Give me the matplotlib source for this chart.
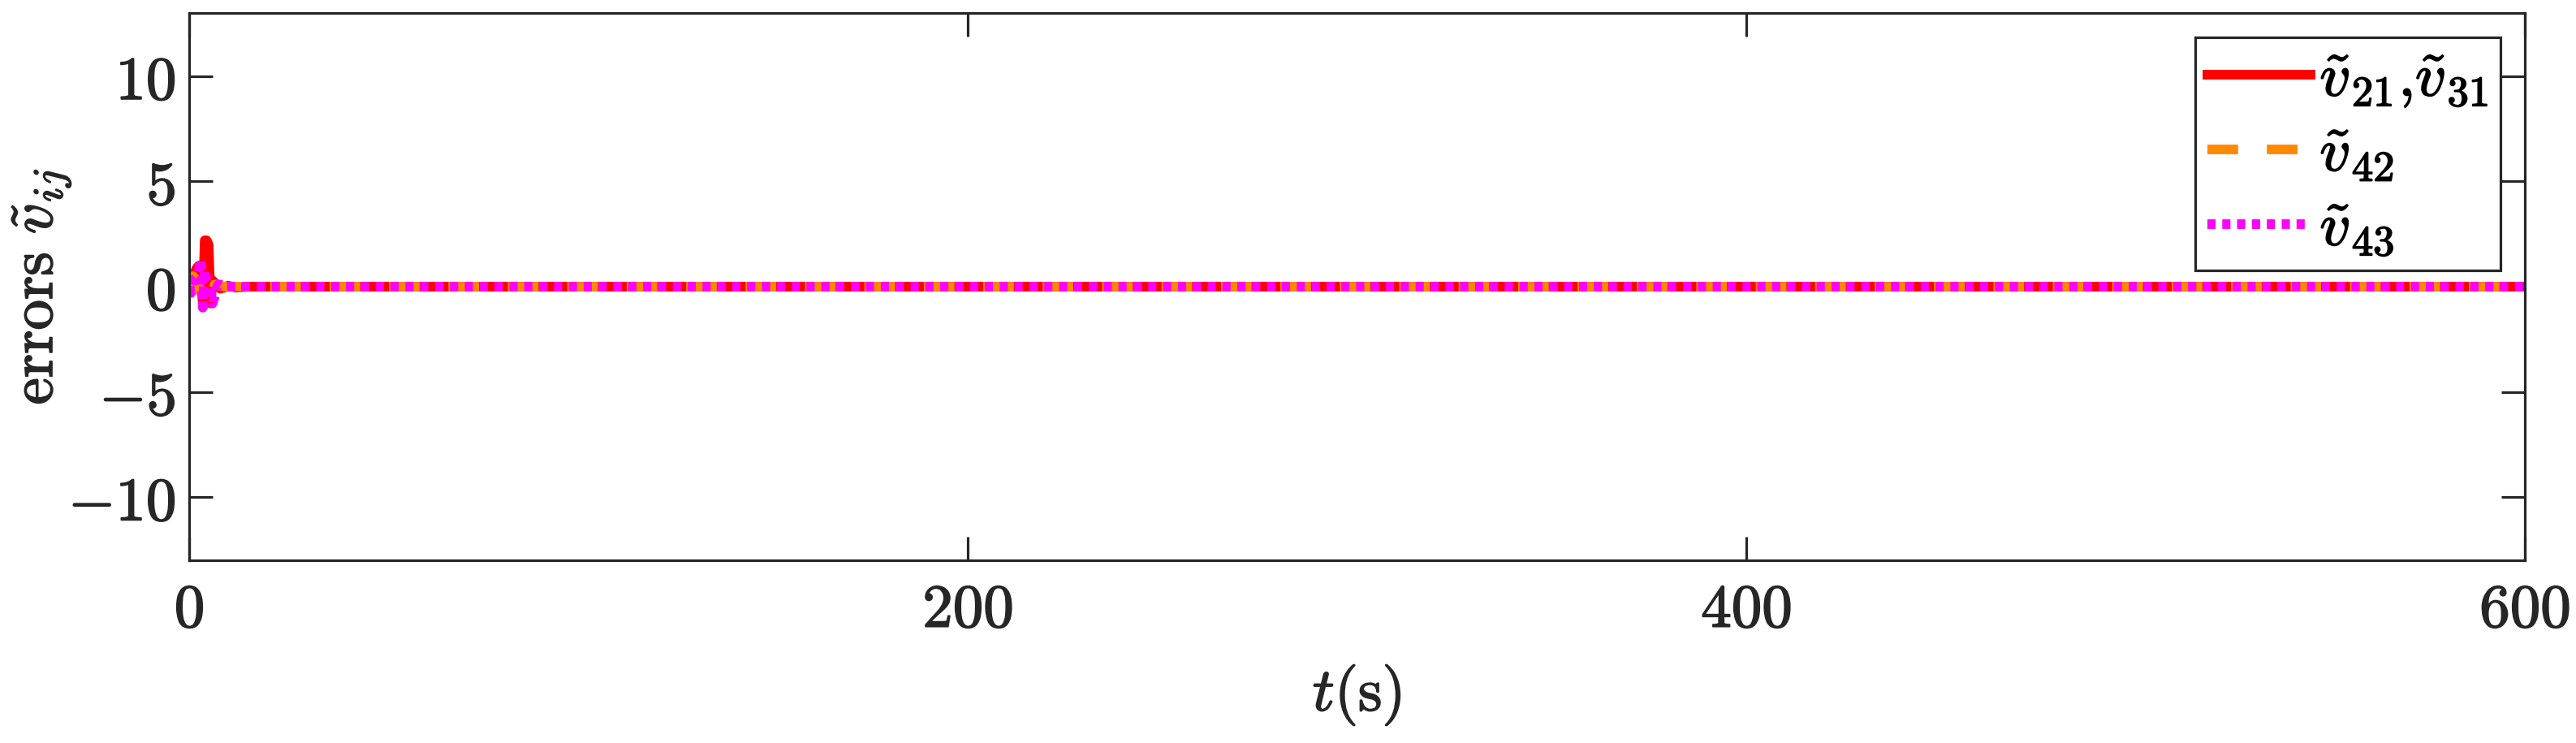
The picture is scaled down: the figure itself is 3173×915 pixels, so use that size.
import matplotlib
matplotlib.use("Agg")
import matplotlib.pyplot as plt
import matplotlib.patheffects as pe
from matplotlib.ticker import FuncFormatter

plt.rcParams['mathtext.fontset'] = 'cm'
plt.rcParams['font.family'] = ['DejaVu Serif']

# time samples (s)
t = [0, 0.5, 1, 1.5, 2, 2.5, 3, 3.5, 4, 4.5, 5, 5.5, 6, 6.5, 7, 7.5, 8, 9, 10, 12, 15, 20, 40, 600]
# errors v21, v31 (red)
v21 = [0.3, 0.5, 0.5, 0.7, 0.9, 1.0, 1.0, -0.8, 2.2, 2.2, 2.0, -0.8, 0.3, 0.2, 0.1, 0.0, -0.1, -0.05, 0.05, -0.05, 0.0, 0.0, 0.0, 0.0]
# error v42 (orange)
v42 = [0.1, 0.2, 0.5, 0.4, 0.2, 0.1, -0.3, -0.2, 0.3, 0.2, 0.0, -0.2, -0.2, 0.1, 0.1, 0.05, 0.05, 0.0, 0.0, 0.0, 0.0, 0.0, 0.0, 0.0]
# error v43 (magenta)
v43 = [0.0, -0.3, 0.3, 0.4, 0.5, 0.8, 1.3, -1.0, 0.8, 0.2, 0.1, -0.1, -0.8, -0.5, -0.1, 0.1, 0.1, 0.0, 0.0, 0.0, 0.0, 0.0, 0.0, 0.0]

labels = [r'$\tilde{v}_{21}{,}\tilde{v}_{31}$', r'$\tilde{v}_{42}$', r'$\tilde{v}_{43}$']
xticks = [0, 200, 400, 600]
yticks = [-10, -5, 0, 5, 10]

fig = plt.figure(figsize=(31.73, 9.15), dpi=100)
ax = fig.add_axes([233/3173, 1-690/915, (3110-233)/3173, (690-16)/915])

lw = 8.5
ax.plot(t, v21, color='#ff0000', lw=lw, label=labels[0], solid_joinstyle='round')
ax.plot(t, v42, color='#ff8800', lw=lw, label=labels[1], dashes=(3.2, 3.0))
ax.plot(t, v43, color='#ff00ff', lw=lw, label=labels[2], dashes=(0.85, 0.7))

ax.set_xlim(0, 600)
ax.set_ylim(-13, 13)
ax.set_xticks(xticks)
ax.set_yticks(yticks)
fmt = FuncFormatter(lambda v, p: r'$%g$' % v)
ax.xaxis.set_major_formatter(fmt)
ax.yaxis.set_major_formatter(fmt)

fs = 54
dark = '#262626'
for s in ax.spines.values():
    s.set_linewidth(2.3)
    s.set_color(dark)
ax.tick_params(direction='in', length=21, width=2.3, colors=dark, labelsize=fs,
               top=True, right=True, pad=12)
ax.tick_params(axis='x', pad=18)

ax.set_xlabel(r'$t(\mathrm{s})$', fontsize=fs, color=dark, labelpad=20)
ax.set_ylabel(r'$\mathrm{errors}\ \tilde{v}_{ij}$', fontsize=fs, color=dark, labelpad=-4)

leg = ax.legend(loc='upper right', fontsize=fs, frameon=True, fancybox=False,
                framealpha=1, edgecolor=dark, handlelength=1.7, handletextpad=0.15,
                borderpad=0.2, labelspacing=0.25, borderaxespad=0.4)
leg.get_frame().set_linewidth(2.3)

texts = list(ax.get_xticklabels()) + list(ax.get_yticklabels()) + \
    [ax.xaxis.label, ax.yaxis.label]
for tx in texts:
    tx.set_path_effects([pe.withStroke(linewidth=1.2, foreground=dark)])
for tx in leg.get_texts():
    tx.set_path_effects([pe.withStroke(linewidth=1.2, foreground='black')])

fig.savefig('out.png', dpi=100)
